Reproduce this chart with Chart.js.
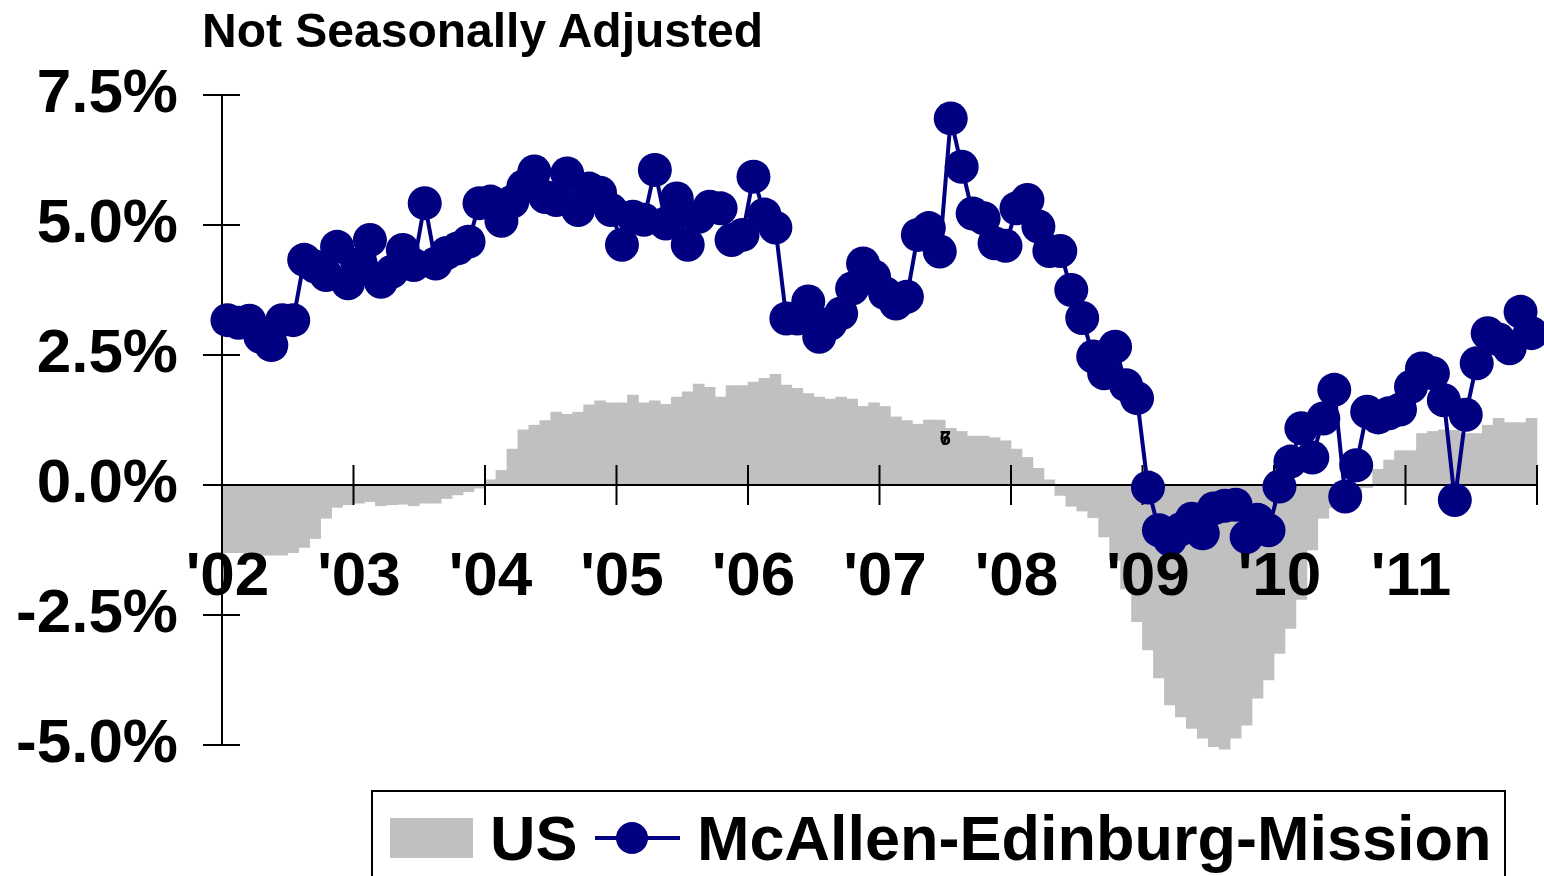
<!DOCTYPE html>
<html>
<head>
<meta charset="utf-8">
<title>McAllen-Edinburg-Mission employment growth</title>
<script src="https://cdn.jsdelivr.net/npm/chart.js@4.4.1/dist/chart.umd.min.js"></script>
<style>
    html, body { margin: 0; padding: 0; background: #fff; }
    body {
        width: 1544px; height: 876px; position: relative; overflow: hidden;
        font-family: "Liberation Sans", Arial, sans-serif; color: #000;
    }
    #chart { position: absolute; left: 0; top: 0; }
    .title {
        position: absolute; left: 202px; top: 7px;
        font-size: 48px; font-weight: bold; line-height: 1; white-space: nowrap;
    }
    .legend-box {
        position: absolute; left: 371px; top: 790px; width: 1135px; height: 130px;
        border: 2px solid #000; box-sizing: border-box;
    }
    .legend-text {
        position: absolute; top: 807px; font-size: 63px; font-weight: bold;
        line-height: 1; white-space: nowrap;
    }
    .swatch-bar { position: absolute; left: 390px; top: 818px; width: 83px; height: 40px; background: #c0c0c0; }
    .swatch-line { position: absolute; left: 595px; top: 836px; width: 85px; height: 4px; background: #000080; }
    .swatch-dot { position: absolute; left: 616px; top: 822px; width: 32px; height: 32px; border-radius: 50%; background: #000080; }
</style>
</head>
<body>
<canvas id="chart" width="1544" height="876"></canvas>
<div class="title">Not Seasonally Adjusted</div>
<div class="legend-box"></div>
<div class="swatch-bar"></div>
<div class="legend-text" style="left:490px">US</div>
<div class="swatch-line"></div>
<div class="swatch-dot"></div>
<div class="legend-text" style="left:697px">McAllen-Edinburg-Mission</div>

<script>
/* =========================================================
   DATA (year-over-year % change, monthly 2002-2011)
========================================================= */
const years = ["2002", "2003", "2004", "2005", "2006", "2007", "2008", "2009", "2010", "2011"];
const months = ["Jan", "Feb", "Mar", "Apr", "May", "Jun", "Jul", "Aug", "Sep", "Oct", "Nov", "Dec"];
const yearTickLabels = ["'02", "'03", "'04", "'05", "'06", "'07", "'08", "'09", "'10", "'11"];

const usData = [
    -1.30, -1.30, -1.35, -1.35, -1.35, -1.35, -1.30, -1.20, -1.03, -0.64, -0.43, -0.38,
    -0.35, -0.32, -0.40, -0.38, -0.37, -0.40, -0.35, -0.35, -0.26, -0.19, -0.13, -0.06,
     0.10,  0.28,  0.69,  1.06,  1.15,  1.24,  1.40,  1.36,  1.40,  1.54,  1.62,  1.58,
     1.58,  1.73,  1.58,  1.62,  1.55,  1.69,  1.79,  1.94,  1.88,  1.69,  1.91,  1.91,
     1.98,  2.05,  2.13,  1.92,  1.86,  1.76,  1.69,  1.65,  1.69,  1.65,  1.51,  1.58,
     1.51,  1.31,  1.24,  1.17,  1.25,  1.25,  1.09,  1.03,  0.94,  0.94,  0.91,  0.85,
     0.69,  0.53,  0.32,  0.10, -0.20, -0.41, -0.50, -0.63, -1.00, -1.45, -2.00, -2.63,
    -3.17, -3.71, -4.23, -4.46, -4.68, -4.87, -5.03, -5.08, -4.87, -4.62, -4.10, -3.75,
    -3.24, -2.76, -2.20, -1.25, -0.64, -0.44, -0.28, -0.12, -0.05,  0.30,  0.48,  0.66,
     0.66,  0.99,  1.03,  1.06,  1.05,  0.99,  0.99,  1.15,  1.28,  1.20,  1.20,  1.28
];

const mcallenData = [
     3.17,  3.12,  3.16,  2.85,  2.69,  3.17,  3.17,  4.33,  4.20,  4.04,  4.58,  3.88,
     4.25,  4.71,  3.91,  4.10,  4.52,  4.23,  5.42,  4.26,  4.46,  4.55,  4.68,  5.42,
     5.45,  5.08,  5.45,  5.74,  6.03,  5.54,  5.48,  5.99,  5.29,  5.70,  5.62,  5.29,
     4.62,  5.16,  5.10,  6.06,  5.03,  5.51,  4.62,  5.16,  5.35,  5.32,  4.71,  4.81,
     5.93,  5.20,  4.95,  3.20,  3.20,  3.53,  2.85,  3.10,  3.30,  3.78,  4.26,  4.01,
     3.69,  3.49,  3.62,  4.81,  4.94,  4.49,  7.05,  6.12,  5.22,  5.13,  4.65,  4.60,
     5.32,  5.48,  4.97,  4.50,  4.50,  3.75,  3.21,  2.47,  2.15,  2.66,  1.92,  1.67,
    -0.05, -0.87, -1.05, -0.85, -0.65, -0.93, -0.45, -0.40, -0.38, -1.00, -0.67, -0.87,
    -0.03,  0.45,  1.09,  0.53,  1.28,  1.83, -0.22,  0.38,  1.41,  1.30,  1.38,  1.45,
     1.89,  2.24,  2.15,  1.63, -0.29,  1.35,  2.34,  2.92,  2.80,  2.63,  3.33,  2.92
];

const categories = [];
years.forEach(y => months.forEach(m => categories.push(m + " " + y)));

const FONT = "'Liberation Sans', Arial, sans-serif";


/* =========================================================
   AXIS LINES + CROSSING TICKS (drawn over the bars, under the line)
========================================================= */
const axisLines = {
    id: "axisLines",
    afterDatasetDraw(chart, args) {
        if (args.meta.type !== "bar") return;
        const { ctx, chartArea, scales: { x, y } } = chart;
        const y0 = y.getPixelForValue(0);

        ctx.save();
        ctx.strokeStyle = "#000";
        ctx.lineWidth = 2;
        ctx.beginPath();
        // vertical axis + ticks
        ctx.moveTo(chartArea.left, y.getPixelForValue(7.5));
        ctx.lineTo(chartArea.left, y.getPixelForValue(-5));
        y.ticks.forEach(t => {
            const py = y.getPixelForValue(t.value);
            ctx.moveTo(chartArea.left - 19, py);
            ctx.lineTo(chartArea.left + 18, py);
        });
        // zero line + year ticks
        ctx.moveTo(chartArea.left, y0);
        ctx.lineTo(chartArea.right, y0);
        for (let k = 1; k <= years.length; k++) {
            const px = x.getPixelForValue(k * 12 - 0.5);
            ctx.moveTo(px, y0 - 20);
            ctx.lineTo(px, y0 + 20);
        }
        ctx.stroke();

        // stray data labels left in the original sheet
        ctx.fillStyle = "#000";
        ctx.font = "bold 20px " + FONT;
        ctx.textAlign = "center";
        ctx.textBaseline = "middle";
        const lx = x.getPixelForValue(65.5), ly = y.getPixelForValue(0.87);
        ctx.fillText("6", lx, ly);
        ctx.fillText("7", lx, ly);
        ctx.restore();
    }
};


/* =========================================================
   CHART
========================================================= */
new Chart(document.getElementById("chart"), {
    type: "bar",
    data: {
        labels: categories,
        datasets: [
            {
                type: "line",
                label: "McAllen-Edinburg-Mission",
                data: mcallenData,
                borderColor: "#000080",
                backgroundColor: "#000080",
                borderWidth: 4,
                pointRadius: 17,
                pointHoverRadius: 17,
                pointBorderWidth: 0,
                pointBackgroundColor: "#000080",
                tension: 0,
                order: 0
            },
            {
                type: "bar",
                label: "US",
                data: usData,
                backgroundColor: "#c0c0c0",
                borderWidth: 0,
                barPercentage: 1,
                categoryPercentage: 1,
                clip: false,
                order: 1
            }
        ]
    },
    options: {
        responsive: false,
        animation: false,
        layout: { autoPadding: false, padding: { left: 0, right: 7, top: 95, bottom: 131 } },
        plugins: {
            legend: { display: false },
            tooltip: { enabled: false }
        },
        scales: {
            x: {
                type: "category",
                offset: true,
                position: { y: 0 },
                afterFit: s => { s.paddingLeft = 0; s.paddingRight = 0; },
                grid: { display: false, drawTicks: false },
                border: { display: false },
                ticks: {
                    z: 1,
                    autoSkip: false,
                    maxRotation: 0,
                    minRotation: 0,
                    padding: 56,
                    color: "#000",
                    font: { family: FONT, size: 62, weight: "bold" },
                    callback: (v, i) => (i % 12 === 0 ? yearTickLabels[i / 12] : "")
                }
            },
            y: {
                min: -5,
                max: 7.5,
                afterFit: s => { s.width = 222; },
                grid: { display: false, drawTicks: false },
                border: { display: false },
                ticks: {
                    stepSize: 2.5,
                    padding: 44,
                    color: "#000",
                    font: { family: FONT, size: 62, weight: "bold" },
                    callback: v => v.toFixed(1) + "%"
                }
            }
        }
    },
    plugins: [axisLines]
});
</script>
</body>
</html>
